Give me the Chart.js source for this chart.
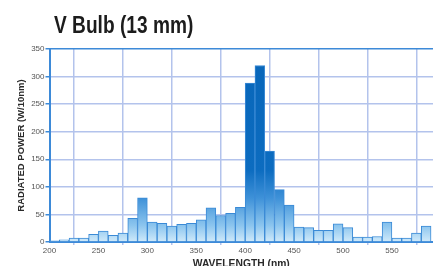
<!DOCTYPE html>
<html>
<head>
<meta charset="utf-8">
<script src="https://cdn.jsdelivr.net/npm/chart.js@4.4.1/dist/chart.umd.min.js"></script>
<style>
	html, body { margin: 0; padding: 0; background: #fff; }
	#wrap { position: relative; width: 433px; height: 266px; overflow: hidden; }
	#title {
		position: absolute; left: 54px; top: 14px;
		font: bold 23px 'Liberation Sans', Arial, sans-serif;
		line-height: 23px; color: #1c1c1c; white-space: nowrap;
		transform-origin: 0 0;
	}
	canvas { position: absolute; left: 0; top: 0; }
</style>
</head>
<body>
<div id="wrap">
	<canvas id="chart" width="433" height="266"></canvas>
	<div id="title">V Bulb (13 mm)</div>
</div>
<script>
// lower edge of each 10 nm band
var wavelengths = [200, 210, 220, 230, 240, 250, 260, 270, 280, 290,
	300, 310, 320, 330, 340, 350, 360, 370, 380, 390,
	400, 410, 420, 430, 440, 450, 460, 470, 480, 490,
	500, 510, 520, 530, 540, 550, 560, 570, 580];
var power = [2, 4, 7, 7, 14, 20, 12, 16, 43, 80,
	36, 34, 29, 32, 34, 40, 62, 48, 52, 63,
	288, 320, 165, 95, 67, 27, 26, 21, 21, 33,
	26, 9, 9, 10, 36, 7, 7, 16, 29];
var yTicks = [0, 50, 100, 150, 200, 250, 300, 350];
var xTicks = [200, 250, 300, 350, 400, 450, 500, 550];

var tickFont = { family: "'Liberation Sans', Arial, sans-serif", size: 8 };
var gridBlue = '#b3c3ec';
var axisBlue = '#3d8ad8';

// squeeze the title into the condensed look of the original
var title = document.getElementById('title');
title.style.transform = 'scaleX(' + (139 / title.offsetWidth) + ')';

function barFill(ctx) {
	var chart = ctx.chart;
	var y = chart.scales.y;
	if (!chart.chartArea || !y) return '#8ec6ee';
	var g = chart.ctx.createLinearGradient(0, y.getPixelForValue(0), 0, y.getPixelForValue(350));
	g.addColorStop(0, '#d0eafa');
	g.addColorStop(30 / 350, '#8cc5ee');
	g.addColorStop(80 / 350, '#3e91d8');
	g.addColorStop(130 / 350, '#0c6cc0');
	g.addColorStop(1, '#0866b9');
	return g;
}

var chart = new Chart(document.getElementById('chart'), {
	type: 'bar',
	data: {
		datasets: [{
			data: wavelengths.map(function (w, i) { return { x: w + 5, y: power[i] }; }),
			backgroundColor: barFill,
			borderColor: '#3a8ad6',
			borderWidth: 1,
			barPercentage: 1,
			categoryPercentage: 1
		}]
	},
	options: {
		responsive: false,
		animation: false,
		layout: { padding: { top: 49, left: 0, right: 0, bottom: 0 } },
		plugins: { legend: { display: false }, tooltip: { enabled: false } },
		scales: {
			x: {
				type: 'linear',
				min: 200,
				max: 592,
				offset: false,
				afterBuildTicks: function (s) {
					s.ticks = xTicks.map(function (v) { return { value: v }; });
				},
				afterFit: function (s) { s.height = 24; },
				grid: { color: gridBlue, lineWidth: 1.5, tickLength: 3, tickColor: gridBlue },
				border: { color: axisBlue, width: 2 },
				ticks: { color: '#555', font: tickFont, padding: 1, maxRotation: 0 },
				title: {
					display: true,
					text: 'WAVELENGTH (nm)',
					color: '#2a2a2a',
					font: { family: "'Liberation Sans', Arial, sans-serif", size: 10.3, weight: 'bold', lineHeight: 0.3 },
					padding: 0
				}
			},
			y: {
				min: 0,
				max: 350,
				afterBuildTicks: function (s) {
					s.ticks = yTicks.map(function (v) { return { value: v }; });
				},
				afterFit: function (s) { s.width = 49.5; },
				grid: {
					color: function (c) { return c.tick && c.tick.value === 350 ? axisBlue : gridBlue; },
					lineWidth: 1.5,
					tickLength: 4,
					tickColor: axisBlue
				},
				border: { color: axisBlue, width: 2 },
				ticks: { color: '#555', font: tickFont, padding: 1 },
				title: {
					display: true,
					text: 'RADIATED POWER (W/10nm)',
					color: '#2a2a2a',
					font: { family: "'Liberation Sans', Arial, sans-serif", size: 9.5, weight: 'bold', lineHeight: 1.2 },
					padding: { top: 16, bottom: 0 }
				}
			}
		}
	}
});
</script>
</body>
</html>
